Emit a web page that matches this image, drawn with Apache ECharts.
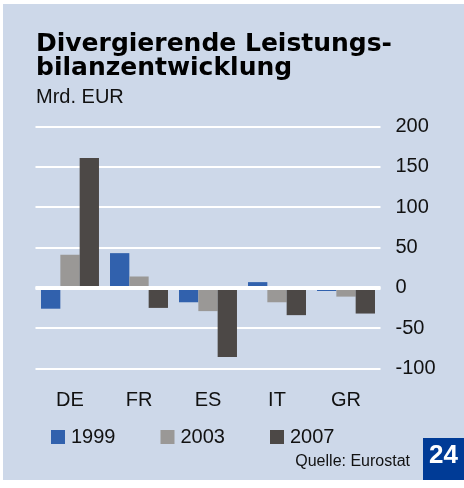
<!DOCTYPE html>
<html>
<head>
<meta charset="utf-8">
<script src="https://cdn.jsdelivr.net/npm/echarts@6/dist/echarts.min.js"></script>
<style>
  html, body { margin: 0; padding: 0; background: #fff; }
  #chart { width: 464px; height: 488px; }
</style>
</head>
<body>
<div id="chart"></div>
<script>
// Leistungsbilanz, Mrd. EUR
var countries = ['DE', 'FR', 'ES', 'IT', 'GR'];
var years = ['1999', '2003', '2007'];
var v1999 = [-26, 43, -18, 7, -4];
var v2003 = [41, 14, -29, -18, -11];
var v2007 = [161, -25, -86, -34, -32];
var colors = ['#3161ad', '#9a9896', '#4c4846'];

var font = 'Liberation Sans, Arial, Helvetica, sans-serif';
var titleFont = 'DejaVu Sans, Liberation Sans, sans-serif';

var myChart = echarts.init(document.getElementById('chart'));

function bar(name, data, idx) {
  return {
    name: name,
    type: 'bar',
    data: data,
    barGap: '0%',
    barCategoryGap: '16%',
    itemStyle: { color: colors[idx] }
  };
}

var series = [bar(years[0], v1999, 0), bar(years[1], v2003, 1), bar(years[2], v2007, 2)];
// thick white zero line on top of the bars
series.push({
  type: 'line',
  data: [],
  z: 10,
  silent: true,
  markLine: {
    symbol: 'none',
    silent: true,
    label: { show: false },
    lineStyle: { color: '#ffffff', width: 4, type: 'solid' },
    data: [{ yAxis: 0 }]
  }
});

var option = {
  animation: false,
  textStyle: { fontFamily: font },
  title: {
    text: 'Divergierende Leistungs-\nbilanzentwicklung',
    subtext: 'Mrd. EUR',
    left: 31,
    top: 27,
    itemGap: 6,
    textStyle: { fontFamily: titleFont, fontSize: 25, fontWeight: 'bold', color: '#000', lineHeight: 24 },
    subtextStyle: { fontFamily: font, fontSize: 20, color: '#111' }
  },
  legend: {
    left: 51,
    top: 427,
    padding: 0,
    icon: 'rect',
    itemWidth: 14,
    itemHeight: 14,
    itemGap: 45,
    data: years,
    textStyle: { fontFamily: font, fontSize: 20, color: '#111', padding: [0, 0, 0, 1] }
  },
  graphic: [
    { type: 'rect', z: -10, shape: { x: 3, y: 4, width: 461, height: 476 }, style: { fill: '#cdd8e9' } },
    { type: 'rect', z: 5, shape: { x: 423, y: 438, width: 41, height: 42 }, style: { fill: '#003b96' } },
    { type: 'text', z: 6, left: 429, top: 443, style: { text: '24', fill: '#fff', font: 'bold 26px ' + font } },
    { type: 'text', z: 6, right: 54, top: 454, style: { text: 'Quelle: Eurostat', fill: '#111', font: '16px ' + font } }
  ],
  grid: { left: 35.5, right: 83.5, top: 126.7, bottom: 119.7, containLabel: false },
  xAxis: {
    type: 'category',
    data: countries,
    axisLine: { show: false, onZero: false },
    axisTick: { show: false },
    axisLabel: { fontSize: 20, color: '#111', margin: 22 }
  },
  yAxis: {
    type: 'value',
    position: 'right',
    min: -100,
    max: 200,
    interval: 50,
    axisLine: { show: false },
    axisTick: { show: false },
    axisLabel: { fontSize: 20, color: '#111', margin: 15 },
    splitLine: { lineStyle: { color: '#ffffff', width: 2 } }
  },
  series: series
};

myChart.setOption(option);
</script>
</body>
</html>
